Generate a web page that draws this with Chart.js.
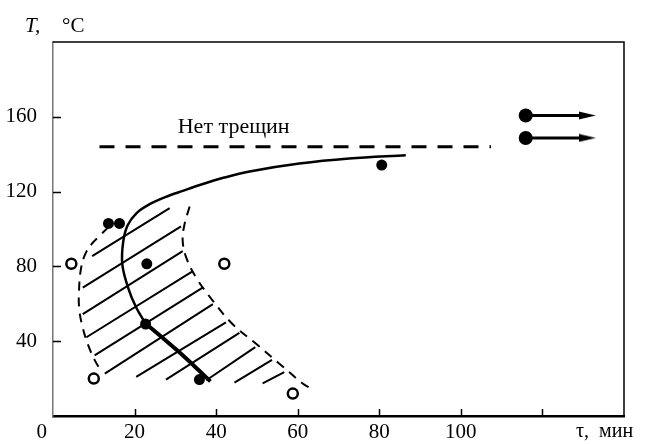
<!DOCTYPE html>
<html>
<head>
<meta charset="utf-8">
<script src="https://cdn.jsdelivr.net/npm/chart.js@4"></script>
<style>
  html, body { margin: 0; padding: 0; background: #fff; }
  #wrap { width: 655px; height: 444px; position: relative; }
</style>
</head>
<body>
<div id="wrap"><canvas id="chart"></canvas></div>
<script>
// axis ticks
const xTicks = [20, 40, 60, 80, 100, 120];
const yTicks = [40, 80, 120, 160];

// measured points [tau, T]
const filledPoints = [[13.6, 103], [16.3, 103], [23, 81.4], [22.7, 49.2], [35.9, 19.5], [80.6, 134.2]];
const openPoints = [[4.5, 81.4], [42, 81.4], [10, 20], [58.8, 12]];
const arrowUpper = [[115.9, 160.7], [131, 160.7]];
const arrowLower = [[115.9, 148.7], [131, 148.7]];

// "no cracks" level
const noCrackLine = [[11.4, 144], [107.4, 144]];
const noCrackLabel = [44.3, 155];

// solid boundary curve
const curveLower = [[38.6, 18.5], [34.5, 27], [30.5, 35], [26.5, 42.5], [22.7, 49.5]];
const curveUpper = [[22.7, 49.5], [20.4, 58], [18.4, 68.7], [17, 81], [17.2, 93], [18.3, 102], [20.5, 108.5],
  [23.5, 113], [27.5, 117], [32, 120.5], [36, 123.5], [42, 127.5], [48.2, 130.8], [60.4, 135],
  [72.6, 137.7], [86.5, 139.5]];

// dashed borders of the hatched zone
const leftBorder = [[13.6, 101], [11.5, 96.5], [9.5, 92], [7.8, 86], [6.8, 78], [6.4, 68], [6.4, 58],
  [7.2, 48], [8.6, 38], [10.2, 30], [11.5, 25]];
const rightBorder = [[33.5, 112], [32.2, 102], [31.8, 93.5], [32.7, 84.6], [35.1, 74], [39.2, 61.6],
  [44, 49.2], [49.8, 38.6], [55.5, 28], [61.2, 17.4], [63, 15]];

// hatch segments [x1, y1, x2, y2]
const hatchLines = [
  [9.6, 85.5, 28.6, 111.2],
  [7.3, 68.7, 31.4, 101.4],
  [7.3, 54.5, 31.8, 88.2],
  [8.2, 42.1, 34.3, 77.5],
  [10.2, 32.4, 36.7, 68.7],
  [12.7, 22.7, 39.2, 59.8],
  [20.4, 20.9, 42.4, 50.1],
  [27.7, 19.5, 45.7, 44.5],
  [37.6, 19.1, 49.6, 36.8],
  [44.5, 17.8, 53.7, 30],
  [51.4, 17.4, 56.7, 23.5]
];

const FONT = "'Liberation Serif', 'DejaVu Serif', serif";
const toXY = arr => arr.map(p => ({ x: p[0], y: p[1] }));

// arrow head image
const arrowHead = document.createElement('canvas');
arrowHead.width = 17;
arrowHead.height = 9;
const ah = arrowHead.getContext('2d');
ah.fillStyle = '#000';
ah.beginPath();
ah.moveTo(0, 0.5);
ah.lineTo(17, 4.5);
ah.lineTo(0, 8.5);
ah.closePath();
ah.fill();

const datasets = [];

hatchLines.forEach(h => {
  datasets.push({
    type: 'line',
    data: [{ x: h[0], y: h[1] }, { x: h[2], y: h[3] }],
    borderColor: '#000',
    borderWidth: 2,
    pointRadius: 0
  });
});

[leftBorder, rightBorder].forEach(b => {
  datasets.push({
    type: 'line',
    data: toXY(b),
    borderColor: '#000',
    borderWidth: 2,
    borderDash: [9, 7],
    tension: 0.4,
    pointRadius: 0
  });
});

datasets.push({
  type: 'line',
  data: toXY(noCrackLine),
  borderColor: '#000',
  borderWidth: 3,
  borderDash: [15, 11],
  pointRadius: 0
});

datasets.push({
  type: 'line',
  data: toXY(curveUpper),
  borderColor: '#000',
  borderWidth: 2.5,
  tension: 0.35,
  pointRadius: 0
});
datasets.push({
  type: 'line',
  data: toXY(curveLower),
  borderColor: '#000',
  borderWidth: 4,
  tension: 0.3,
  pointRadius: 0
});

datasets.push({
  type: 'scatter',
  data: toXY(filledPoints),
  pointRadius: 5.5,
  pointBackgroundColor: '#000',
  pointBorderColor: '#000',
  pointBorderWidth: 0
});
datasets.push({
  type: 'scatter',
  data: toXY(openPoints),
  pointRadius: 5,
  pointBackgroundColor: '#fff',
  pointBorderColor: '#000',
  pointBorderWidth: 2.5
});

[arrowUpper, arrowLower].forEach(a => {
  datasets.push({
    type: 'line',
    data: toXY(a),
    borderColor: '#000',
    borderWidth: 3,
    pointStyle: ['circle', arrowHead],
    pointRadius: 7,
    pointBackgroundColor: '#000',
    pointBorderWidth: 0
  });
});

const framePlugin = {
  id: 'frame',
  afterDraw(chart) {
    const { ctx, chartArea: a, scales: { x, y } } = chart;
    ctx.save();
    ctx.strokeStyle = '#000';
    ctx.lineWidth = 1.5;
    ctx.beginPath();
    ctx.moveTo(a.left, a.top);
    ctx.lineTo(a.right, a.top);
    ctx.lineTo(a.right, a.bottom);
    ctx.stroke();

    // inward ticks
    ctx.beginPath();
    xTicks.forEach(v => {
      const px = Math.round(x.getPixelForValue(v)) + 0.5;
      ctx.moveTo(px, a.bottom);
      ctx.lineTo(px, a.bottom - 7);
    });
    yTicks.forEach(v => {
      const py = Math.round(y.getPixelForValue(v)) + 0.5;
      ctx.moveTo(a.left, py);
      ctx.lineTo(a.left + 8, py);
    });
    ctx.stroke();

    ctx.fillStyle = '#000';
    ctx.textBaseline = 'alphabetic';
    ctx.textAlign = 'center';
    ctx.font = '21px ' + FONT;
    ctx.fillText('0', 41.7, 438);
    ctx.font = '22px ' + FONT;
    ctx.fillText('Нет трещин', x.getPixelForValue(noCrackLabel[0]), y.getPixelForValue(noCrackLabel[1]) + 7);

    ctx.textAlign = 'left';
    ctx.font = 'italic 21px ' + FONT;
    ctx.fillText('T,', 25, 32);
    ctx.font = '21px ' + FONT;
    ctx.fillText('°C', 62, 32);
    ctx.font = '20px ' + FONT;
    ctx.fillText('τ,  мин', 576, 437);
    ctx.restore();
  }
};

new Chart(document.getElementById('chart'), {
  data: { datasets },
  options: {
    responsive: true,
    maintainAspectRatio: false,
    animation: false,
    layout: { padding: { top: 42, right: 31, left: 0, bottom: 0 } },
    plugins: {
      legend: { display: false },
      tooltip: { enabled: false }
    },
    scales: {
      x: {
        type: 'linear',
        min: 0,
        max: 140,
        afterFit: s => { s.height = 28; },
        grid: { display: false },
        border: { color: '#000', width: 2.5 },
        ticks: {
          stepSize: 20,
          padding: -4,
          color: '#000',
          font: { family: FONT, size: 21 },
          maxRotation: 0,
          callback: v => (v > 0 && v <= 100 ? String(v) : '')
        }
      },
      y: {
        type: 'linear',
        min: 0,
        max: 200,
        afterFit: s => { s.width = 53; },
        grid: { display: false },
        border: { color: '#777', width: 1.5 },
        ticks: {
          stepSize: 40,
          padding: 8,
          color: '#000',
          font: { family: FONT, size: 21 },
          callback: v => (yTicks.includes(v) ? String(v) : '')
        }
      }
    }
  },
  plugins: [framePlugin]
});
</script>
</body>
</html>
